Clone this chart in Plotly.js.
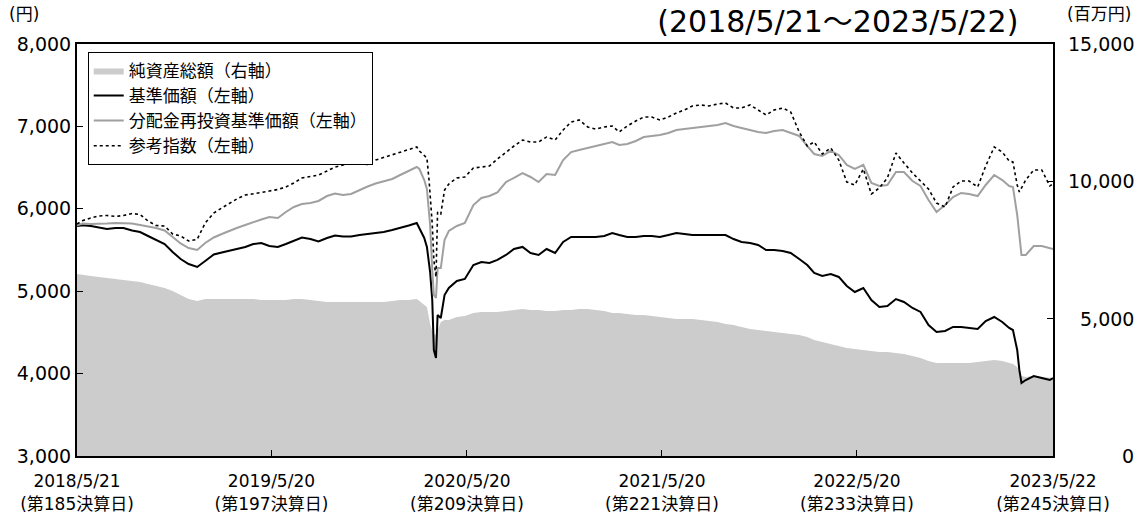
<!DOCTYPE html>
<html><head><meta charset="utf-8">
<script src="https://cdn.plot.ly/plotly-3.0.1.min.js"></script>
<style>html,body{margin:0;padding:0;background:#fff}#chart{width:1143px;height:516px}</style>
</head><body><div id="chart"></div>
<script>
const dates = [
'2018-05-21','2018-06-01','2018-06-16','2018-07-01','2018-07-16','2018-08-01','2018-08-16','2018-09-01','2018-09-16','2018-10-01','2018-10-16','2018-11-01','2018-11-16','2018-12-01','2018-12-16',
'2019-01-01','2019-01-16','2019-02-01','2019-02-16','2019-03-01','2019-03-16','2019-04-01','2019-04-16','2019-05-01','2019-05-16','2019-06-01','2019-06-16','2019-07-01','2019-07-16','2019-08-01','2019-08-16','2019-09-01','2019-09-16','2019-10-01','2019-10-16','2019-11-01','2019-11-16','2019-12-01','2019-12-16',
'2020-01-01','2020-01-16','2020-02-01','2020-02-16','2020-02-21','2020-03-01','2020-03-06','2020-03-10','2020-03-12','2020-03-16','2020-03-19','2020-03-23','2020-03-26','2020-04-01','2020-04-08','2020-04-16','2020-05-01','2020-05-16','2020-06-01','2020-06-16','2020-07-01','2020-07-16','2020-08-01','2020-08-16','2020-09-01','2020-09-16','2020-10-01','2020-10-16','2020-11-01','2020-11-16','2020-12-01','2020-12-16',
'2021-01-01','2021-01-16','2021-02-01','2021-02-16','2021-03-01','2021-03-16','2021-04-01','2021-04-16','2021-05-01','2021-05-16','2021-06-01','2021-06-16','2021-07-01','2021-07-16','2021-08-01','2021-08-16','2021-09-01','2021-09-16','2021-10-01','2021-10-16','2021-11-01','2021-11-16','2021-12-01','2021-12-16',
'2022-01-01','2022-01-16','2022-02-01','2022-02-16','2022-03-01','2022-03-16','2022-04-01','2022-04-16','2022-05-01','2022-05-16','2022-06-01','2022-06-16','2022-07-01','2022-07-16','2022-08-01','2022-08-16','2022-09-01','2022-09-16','2022-10-01','2022-10-16','2022-11-01','2022-11-16','2022-12-01','2022-12-16',
'2023-01-01','2023-01-16','2023-02-01','2023-02-16','2023-03-01','2023-03-08','2023-03-16','2023-03-20','2023-03-24','2023-04-01','2023-04-16','2023-05-01','2023-05-16','2023-05-22'
];

// 純資産総額（百万円）
const netAssets = [
6627,6590,6554,6518,6481,6445,6408,6372,6335,6263,6190,6117,6008,5862,5716,
5644,5716,5716,5716,5716,5716,5716,5716,5680,5680,5680,5680,5716,5716,5680,5644,5607,5607,5607,5607,5607,5607,5607,5607,
5644,5680,5680,5716,5644,5498,5425,5025,4806,4551,4442,4406,4588,4879,4952,4952,5061,5097,5207,5243,5243,5243,5280,5316,5352,5316,5316,5280,5280,5316,5316,5352,
5352,5316,5280,5207,5207,5170,5134,5134,5097,5061,5025,4988,4988,4988,4952,4915,4879,4806,4770,4697,4624,4588,4551,4515,
4478,4442,4406,4333,4224,4151,4078,4005,3932,3896,3859,3823,3787,3787,3750,3714,3641,3568,3459,3386,3386,3386,3386,3386,
3423,3459,3495,3459,3386,3350,3240,3058,2913,2876,2913,2876,2840,2840
];

// 基準価額（円）
const basePrice = [
5790,5800,5790,5770,5755,5767,5767,5737,5718,5670,5621,5573,5476,5391,5330,
5294,5366,5445,5470,5488,5506,5537,5573,5585,5549,5537,5573,5609,5652,5633,5603,5646,5676,5664,5664,5682,5694,5706,5718,
5743,5767,5797,5828,5767,5646,5537,5354,5233,4893,4286,4189,4711,4675,4954,5039,5124,5148,5318,5354,5342,5379,5440,5512,5537,5464,5440,5512,5464,5597,5658,5658,
5658,5658,5670,5706,5682,5658,5658,5670,5670,5658,5682,5706,5694,5682,5682,5682,5682,5682,5633,5597,5585,5561,5500,5500,
5488,5464,5391,5318,5221,5185,5209,5173,5063,4990,5039,4893,4808,4820,4905,4869,4796,4748,4590,4505,4517,4566,4566,4554,
4541,4638,4687,4626,4554,4529,4286,4044,3886,3922,3971,3947,3922,3947
];

// 分配金再投資基準価額（円）
const reinvestPrice = [
5800,5822,5816,5816,5822,5828,5828,5822,5804,5785,5767,5737,5658,5579,5524,
5500,5585,5652,5694,5731,5767,5804,5840,5870,5900,5888,5961,6022,6058,6070,6095,6155,6186,6167,6180,6228,6271,6307,6331,
6362,6410,6459,6507,6483,6349,6240,5961,5804,5257,4954,4918,5281,5281,5621,5731,5791,5828,6046,6131,6155,6198,6325,6374,6434,6386,6325,6422,6410,6592,6689,6714,
6738,6762,6786,6811,6774,6786,6823,6871,6884,6896,6920,6956,6968,6981,6993,7005,7017,7041,7005,6981,6956,6932,6920,6944,
6956,6920,6884,6762,6665,6641,6702,6653,6532,6483,6532,6313,6277,6289,6447,6447,6337,6277,6107,5961,6046,6143,6192,6180,
6155,6289,6410,6349,6277,6265,5925,5682,5440,5440,5549,5549,5524,5512
];

// 参考指数（円）
const refIndex = [
5815,5858,5888,5913,5919,5907,5919,5943,5931,5852,5797,5791,5694,5670,5609,
5630,5828,5949,6010,6058,6119,6167,6180,6198,6216,6234,6265,6313,6374,6392,6410,6459,6507,6532,6562,6550,6538,6592,6623,
6653,6689,6714,6750,6702,6641,6617,6349,6192,5815,5379,5172,5961,5937,6228,6301,6374,6386,6495,6507,6519,6604,6689,6762,6835,6811,6811,6871,6835,6956,7053,7078,
6993,6968,6993,7005,6932,7005,7066,7114,7114,7078,7114,7163,7199,7248,7260,7248,7272,7284,7223,7223,7260,7199,7138,7199,
7223,7175,6932,6762,6811,6665,6738,6592,6325,6289,6483,6180,6253,6374,6677,6556,6435,6337,6240,6070,6022,6265,6337,6337,
6265,6519,6750,6689,6580,6568,6289,6204,6253,6350,6471,6471,6277,6301
];

const seriesNames = ['純資産総額（右軸）','基準価額（左軸）','分配金再投資基準価額（左軸）','参考指数（左軸）'];
const xTickDates = ['2018-05-21','2019-05-20','2020-05-20','2021-05-20','2022-05-20','2023-05-22'];
const xTickLabels = ['2018/5/21<br>(第185決算日)','2019/5/20<br>(第197決算日)','2020/5/20<br>(第209決算日)','2021/5/20<br>(第221決算日)','2022/5/20<br>(第233決算日)','2023/5/22<br>(第245決算日)'];
const leftTicks = [3000,4000,5000,6000,7000,8000];
const leftTickLabels = ['3,000','4,000','5,000','6,000','7,000','8,000'];
const rightTicks = [0,5000,10000,15000];
const rightTickLabels = ['0','5,000','10,000','15,000'];
const titleText = '(2018/5/21～2023/5/22)';
const leftUnit = '(円)';
const rightUnit = '(百万円)';

const FONT = '"DejaVu Sans", "Noto Sans CJK JP", sans-serif';
const CJK = '"Noto Sans CJK JP", sans-serif';

const traces = [
  {x: dates, y: netAssets, name: seriesNames[0], type: 'scatter', mode: 'lines', yaxis: 'y',
   fill: 'tozeroy', fillcolor: '#cccccc', line: {width: 0, color: '#cccccc'}, hoverinfo: 'skip'},
  {x: dates, y: basePrice, name: seriesNames[1], type: 'scatter', mode: 'lines', yaxis: 'y2',
   line: {color: '#000000', width: 2}},
  {x: dates, y: reinvestPrice, name: seriesNames[2], type: 'scatter', mode: 'lines', yaxis: 'y2',
   line: {color: '#a0a0a0', width: 2}},
  {x: dates, y: refIndex, name: seriesNames[3], type: 'scatter', mode: 'lines', yaxis: 'y2',
   line: {color: '#000000', width: 1.6, dash: '3px,3px'}}
];

const annotations = [
  {text: leftUnit, xref: 'paper', yref: 'paper', x: -0.054, y: 1.072, xanchor: 'center', yanchor: 'middle', showarrow: false, font: {size: 17, family: FONT}},
  {text: rightUnit, xref: 'paper', yref: 'paper', x: 1.047, y: 1.072, xanchor: 'center', yanchor: 'middle', showarrow: false, font: {size: 17, family: FONT}}
];
rightTicks.forEach((v, i) => {
  annotations.push({text: rightTickLabels[i], xref: 'paper', yref: 'y', x: 1, y: v, xanchor: 'right', yanchor: 'middle',
    xshift: 83, showarrow: false, font: {size: 19, family: FONT}});
});

const layout = {
  width: 1143, height: 516,
  margin: {l: 77, r: 90, t: 44, b: 60},
  paper_bgcolor: '#ffffff', plot_bgcolor: '#ffffff',
  font: {family: FONT, size: 18, color: '#000000'},
  title: {text: titleText, x: 0.733, xanchor: 'center', xref: 'container', y: 0.958, yanchor: 'middle', yref: 'container', font: {size: 30, family: FONT}},
  showlegend: true,
  legend: {x: 0.011, y: 0.981, xanchor: 'left', yanchor: 'top', bordercolor: '#000000', borderwidth: 1, bgcolor: '#ffffff',
    font: {size: 17, family: CJK}, itemwidth: 30, tracegroupgap: 0, traceorder: 'normal'},
  xaxis: {type: 'date', range: ['2018-05-21', '2023-05-22'], tickvals: xTickDates, ticktext: xTickLabels,
    ticks: 'inside', ticklen: 6, tickwidth: 1, tickcolor: '#000000', showline: true, linecolor: '#000000', linewidth: 2,
    mirror: true, showgrid: false, zeroline: false, tickfont: {size: 17, family: FONT}, ticklabelstandoff: 9},
  yaxis: {side: 'right', range: [0, 15000], tickvals: rightTicks, showticklabels: false, ticks: 'inside', ticklen: 6,
    tickcolor: '#000000', showline: true, linecolor: '#000000', linewidth: 2, showgrid: false, zeroline: false, fixedrange: true},
  yaxis2: {overlaying: 'y', side: 'left', range: [3000, 8000], tickvals: leftTicks, ticktext: leftTickLabels,
    ticks: 'inside', ticklen: 6, tickcolor: '#000000', showline: true, linecolor: '#000000', linewidth: 2,
    showgrid: false, zeroline: false, tickfont: {size: 19, family: FONT}},
  annotations: annotations
};

Plotly.newPlot('chart', traces, layout, {staticPlot: true, displayModeBar: false});
</script>
</body></html>
